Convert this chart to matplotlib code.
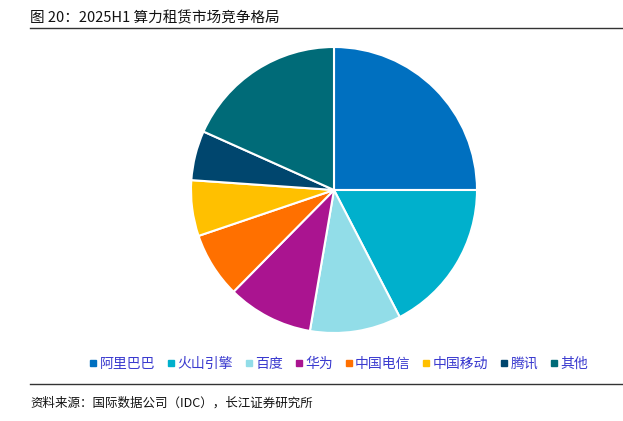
import matplotlib.pyplot as plt
from matplotlib.lines import Line2D

plt.rcParams['font.family'] = ['Noto Sans CJK SC', 'DejaVu Sans']

labels = ['阿里巴巴', '火山引擎', '百度', '华为', '中国电信', '中国移动', '腾讯', '其他']
shares = [25.0, 17.4, 10.3, 9.7, 7.4, 6.3, 5.6, 18.3]
colors = ['#0070C0', '#00B0CC', '#92DDE8', '#AA1490', '#FF7000', '#FFC000', '#00466E', '#006B78']

W, H = 623, 421
fig = plt.figure(figsize=(W / 100, H / 100), dpi=100)

# pie area: centre (334,190), radius 143 px
cx, cy, r = 334, 190, 143
ax = fig.add_axes([(cx - r) / W, (H - cy - r) / H, 2 * r / W, 2 * r / H])
ax.pie(shares, colors=colors, startangle=90, counterclock=False,
       wedgeprops=dict(edgecolor='white', linewidth=1.5))
ax.set_xlim(-1, 1)
ax.set_ylim(-1, 1)
ax.axis('off')

# title and rules
fig.text(30 / W, 1 - 18 / H, '图 20：2025H1 算力租赁市场竞争格局', fontsize=10.5,
         va='center', ha='left', color='#111111')
fig.add_artist(Line2D([30 / W, 1], [1 - 28 / H] * 2, color='#333333', linewidth=1))
fig.add_artist(Line2D([30 / W, 1], [1 - 384 / H] * 2, color='#333333', linewidth=1))
fig.text(30 / W, 1 - 403 / H, '资料来源：国际数据公司（IDC），长江证券研究所', fontsize=9,
         va='center', ha='left', color='#111111')

handles = [Line2D([], [], marker='s', linestyle='none', markersize=4.5,
                  markerfacecolor=c, markeredgecolor=c) for c in colors]
leg = fig.legend(handles, labels, ncol=8, loc='center', frameon=False,
                 bbox_to_anchor=(338 / W, 1 - 364 / H), fontsize=10,
                 handletextpad=0.05, columnspacing=0.75, handlelength=0.8)
for t in leg.get_texts():
    t.set_color('#3A3ACF')

fig.savefig('out.png', dpi=100)
